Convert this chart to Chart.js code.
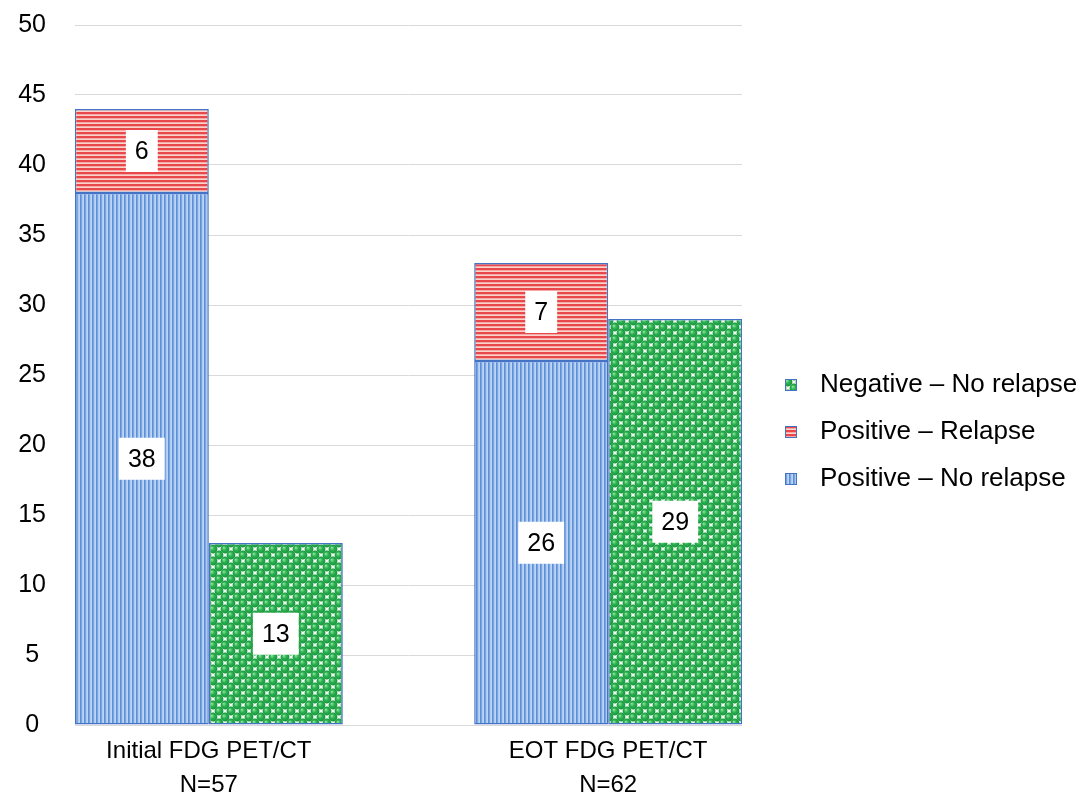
<!DOCTYPE html>
<html>
<head>
<meta charset="utf-8">
<title>FDG PET/CT findings and relapse</title>
<script src="https://cdn.jsdelivr.net/npm/chart.js@4.4.1/dist/chart.umd.min.js"></script>
<style>
  html, body { margin: 0; padding: 0; background: #fff; }
  #wrap { width: 1084px; height: 807px; }
</style>
</head>
<body>
<div id="wrap"><canvas id="petChart" width="1084" height="807"></canvas></div>
<script>
// ── Data ───────────────────────────────────────────────────────
const groupLabels       = [['Initial FDG PET/CT', 'N=57'], ['EOT FDG PET/CT', 'N=62']];
const positiveNoRelapse = [38, 26];
const positiveRelapse   = [6, 7];
const negativeNoRelapse = [13, 29];
const yMax  = 50;
const yStep = 5;

// ── Styles ─────────────────────────────────────────────────────
const FONT   = '"Liberation Sans", Arial, sans-serif';
const BORDER = '#4472c4';
const GRID   = '#d9d9d9';

const canvas = document.getElementById('petChart');
const ctx    = canvas.getContext('2d');

function makeTile(w, h, paint) {
  const c = document.createElement('canvas');
  c.width = w; c.height = h;
  paint(c.getContext('2d'), w, h);
  return c;
}

// vertical blue stripes
const blueTile = makeTile(4, 4, (g) => {
  g.fillStyle = '#c6dbf5'; g.fillRect(0, 0, 4, 4);
  g.fillStyle = '#5b8fda'; g.fillRect(0, 0, 1.7, 4);
  g.fillStyle = '#9dbfec'; g.fillRect(2.4, 0, 0.8, 4);
});

// horizontal red stripes
const redTile = makeTile(4, 4, (g) => {
  g.fillStyle = '#fad4cb'; g.fillRect(0, 0, 4, 4);
  g.fillStyle = '#e8474c'; g.fillRect(0, 0, 4, 2.3);
});

// green shaded dots on a checkerboard
const greenTile = makeTile(12, 12, (g) => {
  g.fillStyle = '#f1fbf2'; g.fillRect(0, 0, 12, 12);
  const dot = (cx, cy) => {
    const rg = g.createRadialGradient(cx - 1.3, cy - 1.3, 0.3, cx, cy, 4.6);
    rg.addColorStop(0, '#8fe3a0');
    rg.addColorStop(0.4, '#2fb552');
    rg.addColorStop(1, '#12903a');
    g.fillStyle = rg;
    g.beginPath(); g.arc(cx, cy, 4.4, 0, Math.PI * 2); g.fill();
  };
  for (let i = -1; i <= 1; i++) {
    for (let j = -1; j <= 1; j++) {
      dot(3 + 12 * i, 3 + 12 * j);
      dot(9 + 12 * i, 9 + 12 * j);
    }
  }
});

const bluePattern  = ctx.createPattern(blueTile, 'repeat');
const redPattern   = ctx.createPattern(redTile, 'repeat');
const greenPattern = ctx.createPattern(greenTile, 'repeat');

// legend swatch: 12px square in the right half of a 24px wide image
function legendIcon(tile) {
  return makeTile(24, 12, (g) => {
    g.fillStyle = g.createPattern(tile, 'repeat');
    g.fillRect(12, 0, 12, 12);
    g.strokeStyle = BORDER; g.lineWidth = 1;
    g.strokeRect(12.5, 0.5, 11, 11);
  });
}

const toPoints = arr => arr.map((v, i) => ({ x: i, y: v }));

// ── Value boxes (white label in the middle of each bar) ───────
const valueBoxes = {
  id: 'valueBoxes',
  afterDatasetsDraw(chart) {
    const c = chart.ctx;
    c.save();
    c.font = '25px ' + FONT;
    c.textAlign = 'center';
    c.textBaseline = 'middle';
    chart.data.datasets.forEach((ds, di) => {
      const meta = chart.getDatasetMeta(di);
      if (meta.hidden) return;
      meta.data.forEach((bar, i) => {
        const { x, y, base } = bar.getProps(['x', 'y', 'base'], true);
        const cy   = (y + base) / 2;
        const text = String(ds.data[i].y);
        const w = c.measureText(text).width + 18;
        const h = 42;
        c.fillStyle = '#fff';
        c.fillRect(x - w / 2, cy - h / 2, w, h);
        c.fillStyle = '#000';
        c.fillText(text, x, cy + 1);
      });
    });
    c.restore();
  }
};

// ── Chart ──────────────────────────────────────────────────────
const datasets = [
  { label: 'Positive – No relapse', data: toPoints(positiveNoRelapse), stack: 'pos', backgroundColor: bluePattern,  icon: legendIcon(blueTile) },
  { label: 'Positive – Relapse',    data: toPoints(positiveRelapse),   stack: 'pos', backgroundColor: redPattern,   icon: legendIcon(redTile) },
  { label: 'Negative – No relapse', data: toPoints(negativeNoRelapse), stack: 'neg', backgroundColor: greenPattern, icon: legendIcon(greenTile) },
].map(d => ({ ...d, borderColor: BORDER, borderWidth: 1.5, borderSkipped: false, categoryPercentage: 0.671, barPercentage: 1 }));

new Chart(canvas, {
  type: 'bar',
  data: { datasets },
  options: {
    responsive: false,
    animation: false,
    layout: { padding: { top: 25, right: 0, bottom: 0, left: 0 } },
    plugins: {
      tooltip: { enabled: false },
      legend: {
        position: 'right',
        reverse: true,
        maxWidth: 342,
        title: { display: true, text: '', font: { size: 10, lineHeight: 1 }, padding: { top: 0, bottom: 22 } },
        labels: {
          usePointStyle: true,
          pointStyleWidth: 44,
          boxHeight: 12,
          padding: 21,
          color: '#000',
          font: { family: FONT, size: 26 },
          generateLabels(chart) {
            const items = Chart.defaults.plugins.legend.labels.generateLabels(chart);
            items.forEach(it => { it.pointStyle = chart.data.datasets[it.datasetIndex].icon; });
            return items;
          }
        }
      }
    },
    scales: {
      x: {
        type: 'linear',
        offset: false,
        min: -0.335,
        max: 1.335,
        stacked: true,
        grid: { display: false, drawTicks: false },
        border: { display: false },
        afterBuildTicks: s => { s.ticks = groupLabels.map((_, i) => ({ value: i })); },
        afterFit: s => { s.height = 82; },
        ticks: {
          autoSkip: false,
          maxRotation: 0,
          padding: 9,
          color: '#000',
          font: { family: FONT, size: 24, lineHeight: 1.42 },
          callback: v => groupLabels[v]
        }
      },
      y: {
        stacked: true,
        min: 0,
        max: yMax,
        grid: { color: GRID, lineWidth: 1, drawTicks: false },
        border: { display: false },
        // labels sit centred in a fixed 75px gutter; keep only half a label of room above the top tick
        afterFit: s => { s.width = 75; s.paddingTop = 15; s.paddingBottom = 15; },
        ticks: {
          stepSize: yStep,
          padding: 29,
          crossAlign: 'center',
          color: '#000',
          font: { family: FONT, size: 25 }
        }
      }
    }
  },
  plugins: [valueBoxes]
});
</script>
</body>
</html>
